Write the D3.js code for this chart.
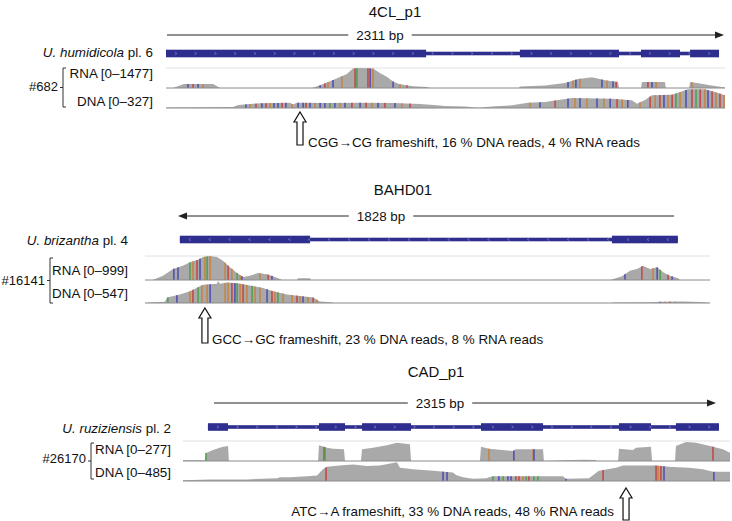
<!DOCTYPE html>
<html><head><meta charset="utf-8">
<script src="https://cdn.jsdelivr.net/npm/d3@7"></script>
<style>body{margin:0;background:#fff}text{font-family:Arial,"Liberation Sans",sans-serif;fill:#111}</style>
</head><body><svg id="c" width="732" height="521"></svg>
<script>
// ---------------- data ----------------
const geneNames = ["4CL_p1", "BAHD01", "CAD_p1"];
const geneLengthLabels = ["2311 bp", "1828 bp", "2315 bp"];
const strands = ["+", "-", "+"];
const speciesItalic = ["U. humidicola", "U. brizantha", "U. ruziziensis"];
const speciesPlant = [" pl. 6", " pl. 4", " pl. 2"];
const sampleIds = ["#682", "#16141", "#26170"];
const rnaMax = [1477, 999, 277];
const dnaMax = [327, 547, 485];
const windowBp = [2336, 2074, 2478];
const geneStart = [0, 128, 113];
const geneEnd = [2311, 1956, 2428];
const frameshiftPos = [560, 220, 2007];
const frameshiftLabels = [
  "CGG\u2192CG frameshift, 16 % DNA reads, 4 % RNA reads",
  "GCC\u2192GC frameshift, 23 % DNA reads, 8 % RNA reads",
  "ATC\u2192A frameshift, 33 % DNA reads, 48 % RNA reads"
];

const exons1 = [[0, 1087], [1479, 1893], [1985, 2148], [2190, 2311]];
const exons2 = [[128, 606], [1714, 1956]];
const exons3 = [[113, 204], [616, 734], [811, 1033], [1350, 1631], [1975, 2120], [2233, 2428]];

// coverage [bp, depth]
const rna1 = [[0,0],[29,0],[75,295],[197,295],[226,0],[610,0],[644,200],[698,590],[756,1035],[781,1440],[811,1477],[865,1440],[894,1108],[924,812],[949,480],[974,295],[999,220],[1032,125],[1091,75],[1103,0],[1475,0],[1479,110],[1584,185],[1667,370],[1722,665],[1780,790],[1835,570],[1889,445],[1893,0],[1985,0],[1989,445],[2085,445],[2089,0],[2186,0],[2190,445],[2232,330],[2273,200],[2323,75],[2336,37]];
const dna1 = [[0,9],[280,17],[301,52],[393,81],[518,91],[531,60],[547,91],[673,86],[811,91],[949,86],[1061,69],[1133,46],[1166,34],[1250,26],[1304,5],[1375,29],[1446,46],[1513,91],[1584,103],[1697,172],[1864,160],[1947,132],[1968,74],[2002,138],[2031,218],[2115,229],[2140,263],[2181,322],[2252,322],[2294,275],[2336,218]];
const rna2 = [[0,0],[29,0],[37,42],[66,179],[103,458],[139,595],[165,736],[195,845],[213,957],[239,999],[264,957],[286,803],[312,528],[338,291],[360,125],[385,179],[415,291],[448,237],[470,154],[496,42],[503,0],[558,0],[562,71],[606,71],[609,0],[1711,0],[1714,21],[1751,154],[1780,387],[1806,458],[1828,595],[1854,458],[1880,528],[1902,320],[1927,179],[1957,71],[1964,0],[2074,0]];
const dna2 = [[0,0],[26,17],[73,31],[81,136],[128,214],[165,293],[213,452],[264,476],[268,547],[275,476],[301,507],[338,493],[385,436],[433,374],[470,293],[521,214],[569,174],[617,136],[642,40],[686,17],[694,0],[1711,0],[1714,12],[1854,19],[1891,31],[1975,36],[2037,24],[2063,12],[2074,0]];
const rna3 = [[0,10],[100,10],[104,111],[136,152],[177,194],[204,208],[208,0],[612,0],[616,217],[652,184],[680,170],[729,162],[734,0],[806,0],[811,162],[861,184],[924,217],[969,253],[1028,231],[1033,0],[1345,0],[1350,198],[1386,170],[1495,139],[1508,162],[1631,162],[1635,0],[1721,10],[1812,18],[1871,14],[1875,0],[1971,0],[1975,170],[2039,152],[2052,184],[2120,198],[2125,0],[2229,0],[2233,208],[2279,263],[2324,253],[2401,198],[2446,162],[2478,115]];
const dna3 = [[0,17],[122,41],[290,41],[426,73],[439,97],[485,97],[562,121],[607,138],[634,298],[652,364],[711,395],[770,420],[834,381],[892,395],[951,461],[969,478],[983,340],[1042,298],[1133,259],[1223,218],[1237,153],[1268,97],[1314,56],[1373,73],[1404,121],[1721,121],[1735,56],[1839,73],[1884,259],[1962,340],[1993,395],[2143,395],[2202,364],[2292,340],[2356,298],[2401,235],[2478,235]];

// mismatches [bp, base]
const rnaMis1 = [[92,"C"],[113,"T"],[134,"C"],[155,"G"],[644,"C"],[664,"T"],[677,"G"],[698,"C"],[735,"G"],[790,"T"],[798,"A"],[844,"T"],[853,"C"],[865,"G"],[949,"C"],[978,"G"],[1007,"T"],[1680,"C"],[1701,"G"],[1713,"C"],[1730,"G"],[1822,"C"],[1843,"G"],[1868,"C"],[1881,"T"],[2014,"T"],[2031,"C"],[2048,"G"],[2198,"G"]];
const dnaMis1 = [[334,"C"],[351,"G"],[376,"T"],[401,"C"],[418,"T"],[435,"G"],[451,"C"],[468,"C"],[485,"T"],[501,"C"],[527,"G"],[552,"C"],[573,"C"],[585,"T"],[602,"C"],[623,"G"],[644,"C"],[664,"C"],[685,"A"],[706,"C"],[727,"G"],[748,"C"],[777,"T"],[811,"C"],[836,"T"],[861,"G"],[886,"C"],[915,"T"],[957,"C"],[986,"G"],[1020,"T"],[1521,"G"],[1563,"C"],[1626,"T"],[1680,"C"],[1709,"G"],[1730,"C"],[1759,"G"],[1801,"C"],[1830,"G"],[1856,"C"],[1885,"T"],[1906,"G"],[1930,"C"],[1981,"G"],[2023,"T"],[2044,"G"],[2064,"T"],[2081,"C"],[2098,"G"],[2115,"T"],[2131,"A"],[2148,"G"],[2173,"C"],[2198,"T"],[2215,"A"],[2232,"T"],[2252,"G"],[2265,"C"],[2282,"T"],[2298,"G"],[2315,"T"],[2332,"G"]];
const rnaMis2 = [[106,"C"],[121,"C"],[165,"A"],[176,"G"],[191,"T"],[202,"C"],[220,"G"],[228,"A"],[239,"G"],[294,"G"],[305,"T"],[319,"G"],[338,"A"],[349,"G"],[356,"C"],[422,"G"],[452,"T"],[466,"C"],[1762,"C"],[1824,"T"],[1865,"G"],[1880,"C"],[1891,"A"],[1920,"T"],[1935,"C"]];
const dnaMis2 = [[84,"A"],[117,"C"],[165,"G"],[176,"T"],[195,"A"],[209,"G"],[228,"G"],[239,"C"],[294,"G"],[305,"G"],[319,"T"],[330,"C"],[338,"A"],[349,"G"],[360,"T"],[374,"G"],[393,"A"],[404,"G"],[422,"G"],[448,"C"],[466,"T"],[477,"G"],[488,"A"],[507,"G"],[540,"G"],[558,"T"],[569,"G"],[580,"C"],[598,"G"],[617,"T"],[631,"G"],[1891,"C"],[1909,"G"],[1927,"T"],[1946,"G"]];
const rnaMis3 = [[104,"A"],[639,"T"],[643,"A"],[1386,"G"],[1499,"C"],[1586,"G"],[1590,"C"],[2401,"T"]];
const dnaMis3 = [[648,"T"],[1178,"C"],[1196,"C"],[1404,"A"],[1431,"C"],[1450,"A"],[1472,"C"],[1486,"C"],[1508,"T"],[1522,"T"],[1540,"G"],[1554,"A"],[1567,"T"],[1590,"A"],[1608,"A"],[1735,"C"],[1903,"T"],[2143,"T"],[2152,"G"],[2165,"T"],[2179,"C"],[2405,"C"]];

const exons = [exons1, exons2, exons3];
const rnaCov = [rna1, rna2, rna3];
const dnaCov = [dna1, dna2, dna3];
const rnaMis = [rnaMis1, rnaMis2, rnaMis3];
const dnaMis = [dnaMis1, dnaMis2, dnaMis3];

// ---------------- layout / style ----------------
const baseColor = {A: "#45a045", C: "#4646b4", G: "#c98038", T: "#c83c3c"};
const covColor = "#a9a9a9";
const geneColor = "#2e2e8e";
const fs = "13.4px";
const layout = [
  {x0:166,x1:725,titleX:395,titleY:17,barY:35,barX0:167,barX1:724,barLabelX:380,geneY:53.5,labelRight:153,speciesY:57,rnaTop:68,rnaBase:88,dnaBase:108,rnaLabY:78,dnaLabY:106,idRight:58,idY:91,brX:63,brTop:68,brBot:107,arrowTip:112,arrowBot:145,fsX:308,fsY:147,fsAnchor:"start"},
  {x0:145,x1:710,titleX:403,titleY:195,barY:216,barX0:178,barX1:674,barLabelX:381,geneY:239.5,labelRight:128,speciesY:245,rnaTop:256,rnaBase:280,dnaBase:303,rnaLabY:275,dnaLabY:298,idRight:45,idY:285,brX:50,brTop:258,brBot:303,arrowTip:308,arrowBot:343,fsX:212,fsY:344,fsAnchor:"start"},
  {x0:183,x1:730,titleX:436,titleY:377,barY:403,barX0:214,barX1:716,barLabelX:440,geneY:427,labelRight:171,speciesY:433,rnaTop:441,rnaBase:461,dnaBase:481,rnaLabY:454,dnaLabY:477,idRight:86,idY:463,brX:91,brTop:443,brBot:479,arrowTip:488,arrowBot:520,fsX:614,fsY:516,fsAnchor:"end"}
];

const svg = d3.select("#c");

function covAt(arr, bp) {
  const i = d3.bisector(d => d[0]).right(arr, bp);
  if (i <= 0) return arr[0][1];
  if (i >= arr.length) return arr[arr.length - 1][1];
  const a = arr[i - 1], b = arr[i];
  const t = (bp - a[0]) / Math.max(1e-9, b[0] - a[0]);
  return a[1] + t * (b[1] - a[1]);
}

layout.forEach((L, i) => {
  const g = svg.append("g");
  const x = d3.scaleLinear().domain([0, windowBp[i]]).range([L.x0, L.x1]);
  const yR = d3.scaleLinear().domain([0, rnaMax[i]]).range([L.rnaBase, L.rnaTop]);
  const yD = d3.scaleLinear().domain([0, dnaMax[i]]).range([L.dnaBase, L.rnaBase + 1]);

  // title
  g.append("text").attr("x", L.titleX).attr("y", L.titleY).attr("text-anchor", "middle")
    .style("font-size", "15px").text(geneNames[i]);

  // scale bar
  const lbl = g.append("text").attr("x", L.barLabelX).attr("y", L.barY + 4.5).attr("text-anchor", "middle")
    .style("font-size", fs).text(geneLengthLabels[i]);
  const hw = lbl.node().getComputedTextLength() / 2 + 8;
  const barCol = "#222";
  g.append("line").attr("x1", L.barX0 + (strands[i] === "-" ? 6 : 0)).attr("x2", L.barLabelX - hw)
    .attr("y1", L.barY).attr("y2", L.barY).attr("stroke", barCol).attr("stroke-width", 1);
  g.append("line").attr("x1", L.barLabelX + hw).attr("x2", L.barX1 - (strands[i] === "+" ? 6 : 0))
    .attr("y1", L.barY).attr("y2", L.barY).attr("stroke", barCol).attr("stroke-width", 1);
  if (strands[i] === "+") {
    g.append("path").attr("d", `M${L.barX1},${L.barY} L${L.barX1 - 9},${L.barY - 3.5} L${L.barX1 - 9},${L.barY + 3.5} Z`).attr("fill", barCol);
  } else {
    g.append("path").attr("d", `M${L.barX0},${L.barY} L${L.barX0 + 9},${L.barY - 3.5} L${L.barX0 + 9},${L.barY + 3.5} Z`).attr("fill", barCol);
  }

  // species label
  const st = g.append("text").attr("x", L.labelRight).attr("y", L.speciesY).attr("text-anchor", "end").style("font-size", fs);
  st.append("tspan").style("font-style", "italic").text(speciesItalic[i]);
  st.append("tspan").text(speciesPlant[i]);

  // gene model
  g.append("rect").attr("x", x(geneStart[i])).attr("width", x(geneEnd[i]) - x(geneStart[i]))
    .attr("y", L.geneY - 1.8).attr("height", 3.6).attr("fill", geneColor);
  g.selectAll(null).data(exons[i]).enter().append("rect")
    .attr("x", d => x(d[0])).attr("width", d => x(d[1]) - x(d[0]))
    .attr("y", L.geneY - 3.8).attr("height", 7.6).attr("fill", geneColor);
  const step = (geneEnd[i] - geneStart[i]) / Math.round((x(geneEnd[i]) - x(geneStart[i])) / 20);
  const dir = strands[i] === "+" ? 1 : -1;
  g.selectAll(null).data(d3.range(geneStart[i] + step / 2, geneEnd[i], step)).enter().append("path")
    .attr("d", d => `M${x(d) - 1 * dir},${L.geneY - 1.2} L${x(d) + 1 * dir},${L.geneY} L${x(d) - 1 * dir},${L.geneY + 1.2}`)
    .attr("fill", "none").attr("stroke", "#8282c8").attr("stroke-width", 0.7);

  // track lines
  g.append("line").attr("x1", L.x0).attr("x2", L.x1).attr("y1", L.rnaTop).attr("y2", L.rnaTop).attr("stroke", "#e0e0e0");

  // coverage areas
  const areaR = d3.area().x(d => x(d[0])).y0(L.rnaBase).y1(d => yR(d[1]));
  const areaD = d3.area().x(d => x(d[0])).y0(L.dnaBase).y1(d => yD(d[1]));
  g.append("path").datum(rnaCov[i]).attr("d", areaR).attr("fill", covColor);
  g.append("path").datum(dnaCov[i]).attr("d", areaD).attr("fill", covColor);

  // mismatch bars
  g.selectAll(null).data(rnaMis[i]).enter().append("rect")
    .attr("x", d => x(d[0]) - 0.7).attr("width", 1.4)
    .attr("y", d => yR(covAt(rnaCov[i], d[0]))).attr("height", d => L.rnaBase - yR(covAt(rnaCov[i], d[0])))
    .attr("fill", d => baseColor[d[1]]);
  g.selectAll(null).data(dnaMis[i]).enter().append("rect")
    .attr("x", d => x(d[0]) - 0.7).attr("width", 1.4)
    .attr("y", d => yD(covAt(dnaCov[i], d[0]))).attr("height", d => L.dnaBase - yD(covAt(dnaCov[i], d[0])))
    .attr("fill", d => baseColor[d[1]]);

  g.append("line").attr("x1", L.x0).attr("x2", L.x1).attr("y1", L.rnaBase).attr("y2", L.rnaBase).attr("stroke", "#8a8a8a");
  g.append("line").attr("x1", L.x0).attr("x2", L.x1).attr("y1", L.dnaBase).attr("y2", L.dnaBase).attr("stroke", "#8a8a8a");

  // track labels
  g.append("text").attr("x", L.labelRight).attr("y", L.rnaLabY).attr("text-anchor", "end").style("font-size", fs)
    .text(`RNA [0\u2013${rnaMax[i]}]`);
  g.append("text").attr("x", L.labelRight).attr("y", L.dnaLabY).attr("text-anchor", "end").style("font-size", fs)
    .text(`DNA [0\u2013${dnaMax[i]}]`);
  g.append("text").attr("x", L.idRight).attr("y", L.idY).attr("text-anchor", "end").style("font-size", "13px")
    .text(sampleIds[i]);
  const mid = (L.brTop + L.brBot) / 2;
  g.append("path").attr("d", `M${L.brX + 3},${L.brTop} H${L.brX} V${L.brBot} H${L.brX + 3} M${L.brX - 3},${mid} H${L.brX}`)
    .attr("fill", "none").attr("stroke", "#333").attr("stroke-width", 1);

  // frameshift arrow
  const ax = x(frameshiftPos[i]);
  const hh = 10;
  g.append("path").attr("d", `M${ax},${L.arrowTip} L${ax + 6},${L.arrowTip + hh} L${ax + 3},${L.arrowTip + hh} L${ax + 3},${L.arrowBot} L${ax - 3},${L.arrowBot} L${ax - 3},${L.arrowTip + hh} L${ax - 6},${L.arrowTip + hh} Z`)
    .attr("fill", "#fff").attr("stroke", "#111").attr("stroke-width", 1.2).attr("stroke-linejoin", "miter");
  g.append("text").attr("x", L.fsX).attr("y", L.fsY).attr("text-anchor", L.fsAnchor).style("font-size", fs)
    .text(frameshiftLabels[i]);
});
</script></body></html>
